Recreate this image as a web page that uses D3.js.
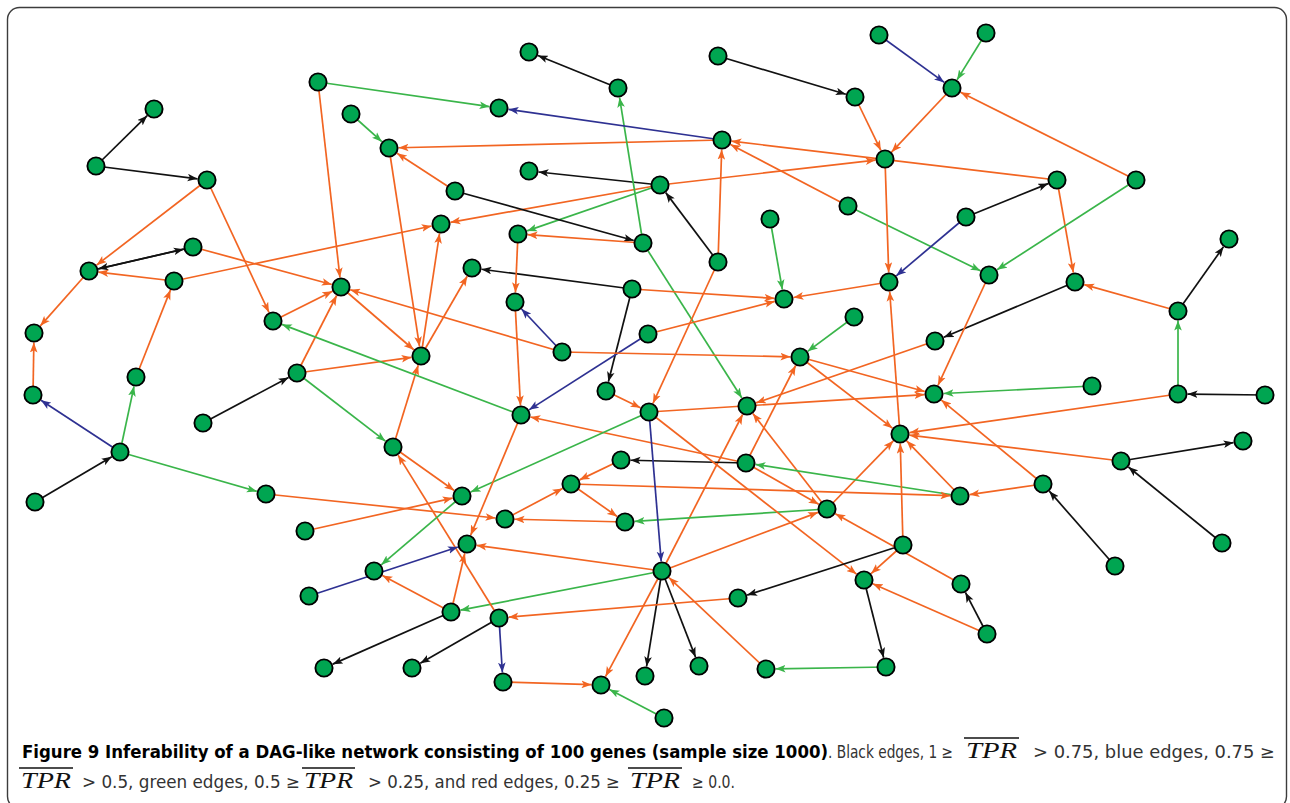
<!DOCTYPE html>
<html>
<head>
<meta charset="utf-8">
<script src="https://cdn.jsdelivr.net/npm/d3@7"></script>
<style>
  body { margin: 0; background: #fff; }
  svg { display: block; }
</style>
</head>
<body>
<svg width="1290" height="803"></svg>
<script>
// gene ids and their layout position
const geneIds = [
  'A1','A2','A3','A4','A5','A6','A7','A8','A9','A10','A11','A12','A13','A14',
  'B1','B2','B3','B4','B5','B6','B7','B8','B9','B11','B12','B13','B14','B15','B16','B17','B18','B19','B20','B21','B22','B23',
  'C1','C2','C3','C4','C5','C6','C7','C8','C9','C10','C11','C12','C13',
  'D1','D2','D3','D4','D5','D6','D8','D9','D10','D11','D12','D13','D14',
  'E1','E2','E3','E4','E6','E7','E8','E9','E10','E11','E12','E13','E14','E15','E17','E18','E19','E20','E21','E22','E23','E24',
  'F1','F2','F3','F4','F5','F6','F7','F8','F9','F10','F11','F12','F13','F14','F15','F16'
];
const geneX = [
  154,96,207,193,89,174,34,318,351,389,341,273,421,441,
  529,618,718,855,499,722,529,660,455,518,643,848,770,718,472,632,784,515,648,854,562,800,
  879,986,952,885,1057,1136,966,889,989,1075,1229,1178,935,
  33,136,120,35,203,297,393,266,305,374,309,324,412,
  606,521,649,747,621,746,571,462,505,625,827,467,662,738,451,499,503,601,645,699,766,664,
  934,1092,1178,1265,900,1243,1121,960,1043,903,864,961,987,1115,1222,886
];
const geneY = [
  109,166,180,247,271,281,333,82,114,148,287,321,356,224,
  52,88,56,97,108,140,171,185,191,234,243,206,219,262,268,289,299,302,334,317,352,357,
  35,33,88,159,180,180,217,282,275,282,239,311,341,
  395,377,452,502,423,373,447,494,531,571,596,668,668,
  391,415,412,406,460,463,484,496,519,522,509,544,571,598,612,618,682,685,676,666,669,718,
  394,386,394,395,434,441,461,496,484,545,580,584,634,566,543,667
];

// TPR bands: 0 = (0.75,1], 1 = (0.5,0.75], 2 = (0.25,0.5], 3 = [0,0.25]
const tprBands = [0, 1, 2, 3];

// directed edges [from, to, band]
const edges = [
  ['A2','A1',0], ['A2','A3',0], ['A3','A5',3], ['A3','A12',3], ['A5','A4',0], ['A4','A5',0],
  ['A6','A5',3], ['A6','A14',3], ['A4','A11',3], ['A5','A7',3], ['D1','A7',3], ['D2','A6',3],
  ['A8','B5',2], ['A8','A11',3], ['A9','A10',2], ['B6','A10',3], ['B9','A10',3], ['A10','A13',3],
  ['A11','A13',3], ['A12','A11',3], ['B22','A11',3], ['D6','A11',3], ['D6','A13',3], ['A13','A14',3],
  ['A13','B16',3], ['B8','A14',3], ['B8','C4',3], ['B8','B7',0], ['B8','B11',2], ['B9','B12',0],
  ['B12','B11',3], ['B12','B2',2], ['B12','E4',2], ['B2','B1',0], ['B3','B4',0], ['B6','B5',1],
  ['B15','B6',3], ['B15','B8',0], ['C5','B6',3], ['B13','B6',3], ['B13','C9',2], ['C5','C10',3],
  ['C7','C5',0], ['C7','C8',1], ['C4','C8',3], ['C3','C4',3], ['B4','C4',3], ['C1','C3',1],
  ['C2','C3',2], ['C6','C3',3], ['C6','C9',2], ['C12','C10',3], ['C12','C11',0], ['F3','C12',2],
  ['F4','F3',0], ['C10','C13',0], ['C8','B18',3], ['B14','B18',2], ['B17','B18',3], ['B20','B18',3],
  ['B17','B16',0], ['B17','E1',0], ['B20','E2',1], ['B11','B19',3], ['B22','B19',1], ['B19','E2',3],
  ['B22','B23',3], ['B21','B23',2], ['B15','E3',3], ['E1','E3',3], ['E3','F1',3], ['C13','E4',3],
  ['B23','F1',3], ['B23','F5',3], ['E7','B23',3], ['E14','E4',3], ['E12','E4',3], ['E12','F5',3],
  ['E14','E12',3], ['E7','E12',3], ['E7','E2',3], ['E7','E6',0], ['F8','E7',2], ['E6','E8',3],
  ['E8','E11',3], ['E11','E10',3], ['E10','E8',3], ['E8','F8',3], ['E12','E11',2], ['E3','F11',3],
  ['E3','E14',1], ['E3','E9',2], ['E14','E13',3], ['E14','E17',2], ['E14','E20',3], ['E14','E21',0],
  ['E14','E22',0], ['E23','E14',3], ['F16','E23',2], ['E15','E18',3], ['F10','E15',0], ['E18','E19',1],
  ['E19','E20',3], ['E24','E20',2], ['E18','D14',0], ['E17','D13',0], ['E17','E13',3], ['E17','D11',3],
  ['E18','D8',3], ['D12','E13',1], ['E9','D11',2], ['E2','E13',3], ['D8','E9',3], ['D8','A13',3],
  ['D6','D8',2], ['D5','D6',0], ['D3','D1',1], ['D4','D3',0], ['D3','D2',2], ['D3','D9',2],
  ['D9','E10',3], ['D10','E9',3], ['E2','A12',2], ['F3','F5',3], ['F7','F5',3], ['F7','F6',0],
  ['F15','F7',0], ['F2','F1',2], ['F9','F1',3], ['F9','F8',3], ['F14','F9',0], ['F8','F5',3],
  ['F10','F5',3], ['F5','C8',3], ['F10','F11',3], ['F12','E12',3], ['F13','F12',0], ['F13','F11',3],
  ['F11','F16',0], ['C9','F1',3]
];

const svg = d3.select('svg');
const W = +svg.attr('width'), H = +svg.attr('height');

// frame
svg.append('rect')
    .attr('x', 7.5).attr('y', 7.5)
    .attr('width', W - 11).attr('height', H - 2)
    .attr('rx', 12)
    .attr('fill', 'none')
    .attr('stroke', '#3c3c3c')
    .attr('stroke-width', 1.4);

const x = d3.scaleLinear().domain(d3.extent(geneX)).range([33, 1265]);
const y = d3.scaleLinear().domain(d3.extent(geneY)).range([33, 718]);

const color = d3.scaleOrdinal()
    .domain(tprBands)
    .range(['#111111', '#2e3192', '#3ab54a', '#f26522']);

const r = 8.6, nodeStroke = 1.9;

const pos = new Map(geneIds.map((id, i) => [id, [x(geneX[i]), y(geneY[i])]]));

const defs = svg.append('defs');
tprBands.forEach(b => {
  defs.append('marker')
      .attr('id', 'arrow' + b)
      .attr('viewBox', '0 -4 10 8')
      .attr('refX', 10).attr('refY', 0)
      .attr('markerWidth', 10).attr('markerHeight', 8)
      .attr('markerUnits', 'userSpaceOnUse')
      .attr('orient', 'auto')
    .append('path')
      .attr('d', 'M0,-3.8L10,0L0,3.8L2.4,0Z')
      .attr('fill', color(b));
});

const g = svg.append('g');

const edgeGeom = edges.map(([s, t, b]) => {
  const [x1, y1] = pos.get(s), [x2, y2] = pos.get(t);
  const len = Math.hypot(x2 - x1, y2 - y1);
  const off = r + nodeStroke / 2;
  return {
    band: b,
    x1: x1, y1: y1,
    x2: x2 - (x2 - x1) / len * off,
    y2: y2 - (y2 - y1) / len * off
  };
});

g.append('g').attr('class', 'edges')
  .selectAll('line')
  .data(edgeGeom)
  .join('line')
    .attr('x1', d => d.x1).attr('y1', d => d.y1)
    .attr('x2', d => d.x2).attr('y2', d => d.y2)
    .attr('stroke', d => color(d.band))
    .attr('stroke-width', 1.7)
    .attr('marker-end', d => `url(#arrow${d.band})`);

g.append('g').attr('class', 'genes')
  .selectAll('circle')
  .data(geneIds)
  .join('circle')
    .attr('cx', d => pos.get(d)[0])
    .attr('cy', d => pos.get(d)[1])
    .attr('r', r)
    .attr('fill', '#00a551')
    .attr('stroke', '#000')
    .attr('stroke-width', nodeStroke);

// caption
const sans = '"Liberation Sans Narrow", "DejaVu Sans Condensed", "Liberation Sans", Arial, sans-serif';
const serif = '"Liberation Serif", "DejaVu Serif", serif';

const captionLines = [
  { base: 758, segs: [
    { t: 'Figure 9 Inferability of a DAG-like network consisting of 100 genes (sample size 1000)', k: 'b', x: 22, w: 806 },
    { t: '. Black edges, 1 \u2265', k: 'r', x: 828, w: 125 },
    { t: 'TPR', k: 't', x: 966, w: 51 },
    { t: '> 0.75, blue edges, 0.75 \u2265', k: 'r', x: 1033, w: 242 }
  ]},
  { base: 788, segs: [
    { t: 'TPR', k: 't', x: 21, w: 50 },
    { t: '> 0.5, green edges, 0.5 \u2265', k: 'r', x: 82, w: 218 },
    { t: 'TPR', k: 't', x: 304, w: 49 },
    { t: '> 0.25, and red edges, 0.25 \u2265', k: 'r', x: 368, w: 252 },
    { t: 'TPR', k: 't', x: 630, w: 50 },
    { t: '\u2265 0.0.', k: 'r', x: 692, w: 43 }
  ]}
];

const cap = svg.append('g').attr('class', 'caption');
captionLines.forEach(line => {
  line.segs.forEach(s => {
    const txt = cap.append('text')
        .attr('x', s.x).attr('y', line.base)
        .attr('textLength', s.w)
        .attr('lengthAdjust', 'spacingAndGlyphs')
        .text(s.t);
    if (s.k === 't') {
      txt.attr('font-family', serif)
         .attr('font-style', 'italic')
         .attr('font-size', 24)
         .attr('fill', '#111');
      cap.append('line')
          .attr('x1', s.x - 2).attr('x2', s.x + s.w + 2)
          .attr('y1', line.base - 20).attr('y2', line.base - 20)
          .attr('stroke', '#111')
          .attr('stroke-width', 1.6);
    } else {
      txt.attr('font-family', sans)
         .attr('font-size', 17)
         .attr('font-weight', s.k === 'b' ? 'bold' : 'normal')
         .attr('fill', s.k === 'b' ? '#000' : '#333');
    }
  });
});
</script>
</body>
</html>
